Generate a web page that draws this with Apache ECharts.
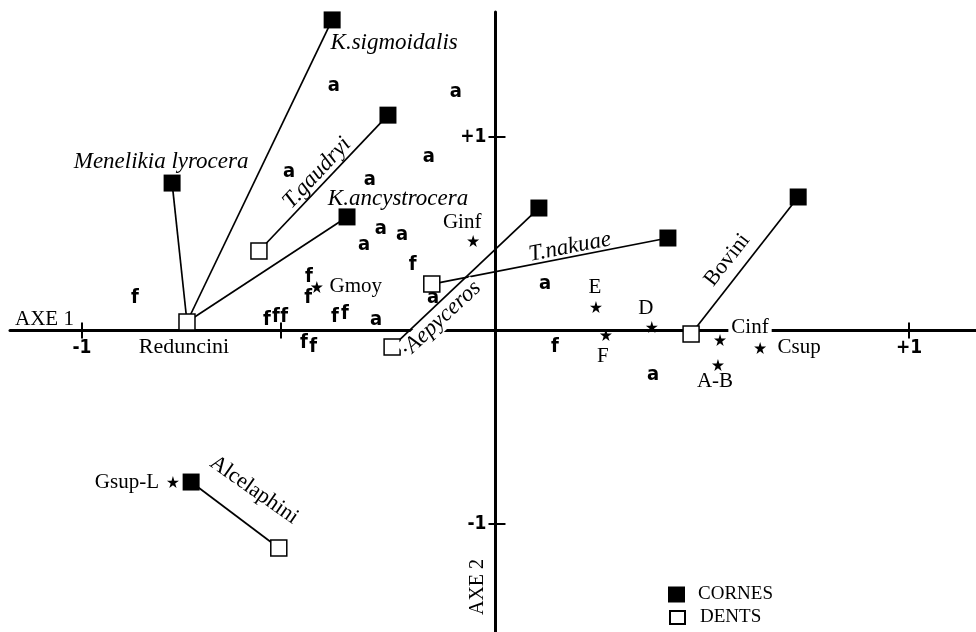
<!DOCTYPE html>
<html>
<head>
<meta charset="utf-8">
<script src="https://cdn.jsdelivr.net/npm/echarts@6/dist/echarts.min.js"></script>
<style>
  html, body { margin: 0; padding: 0; background: #fff; }
  #main { width: 976px; height: 632px; }
</style>
</head>
<body>
<div id="main"></div>
<script>
// CORNES (black squares), each linked to one DENTS point (white squares)
var cornesNames = ['K.sigmoidalis', 'T.gaudryi', 'Menelikia lyrocera', 'K.ancystrocera', '·Aepyceros', 'T.nakuae', 'Bovini', 'Alcelaphini'];
var cornesX = [-0.395, -0.260, -0.782, -0.359, 0.105, 0.417, 0.732, -0.736];
var cornesY = [1.605, 1.113, 0.762, 0.587, 0.633, 0.478, 0.690, -0.783];
var linkTo = [0, 1, 0, 0, 2, 3, 4, 5];

var dentsNames = ['Reduncini', '', '', '', '', ''];
var dentsX = [-0.746, -0.572, -0.250, -0.154, 0.473, -0.524];
var dentsY = [0.044, 0.411, -0.085, 0.240, -0.018, -1.124];

// stars
var starNames = ['Gmoy', 'Ginf', 'E', 'D', 'F', 'Cinf', 'Csup', 'A-B', 'Gsup-L'];
var starX = [-0.432, -0.054, 0.243, 0.378, 0.267, 0.543, 0.640, 0.538, -0.780];
var starY = [0.225, 0.463, 0.121, 0.018, -0.023, -0.049, -0.090, -0.178, -0.783];

// a / f letters
var letterText = ['a','a','a','a','a','a','a','a','a','a','a','a',
                  'f','f','f','f','f','f','f','f','f','f','f','f'];
var letterX = [-0.391, -0.096, -0.161, -0.499, -0.304, -0.277, -0.226, -0.318, -0.151, -0.289, 0.120, 0.381,
               -0.872, -0.553, -0.531, -0.511, -0.451, -0.453, -0.388, -0.364, -0.463, -0.441, -0.200, 0.144];
var letterY = [1.264, 1.232, 0.897, 0.819, 0.778, 0.525, 0.494, 0.442, 0.168, 0.054, 0.240, -0.230,
               0.168, 0.054, 0.070, 0.070, 0.276, 0.168, 0.070, 0.085, -0.065, -0.085, 0.338, -0.085];

// axes
var xTicks = [-1, -0.52, 1];
var xTickLabels = [-1, 1];
var yTicks = [-1, 1];
var yTickLabels = [-1, 1];

var SERIF = '"Liberation Serif", "Times New Roman", serif';
var NARROW = '"Liberation Sans Narrow", "DejaVu Sans Condensed", "Liberation Sans", sans-serif';
var STAR = 'path://M50,0 L61,35 L98,35 L68,57 L79,91 L50,70 L21,91 L32,57 L2,35 L39,35 Z';

// label placement: [dx, dy, rotate, italic]
var cornesLabelPos = [
  [62, 23, 0, true], [-71, 58, 47, true], [-11, -21, 0, true], [51, -18, 0, true],
  [-98, 111, 43, true], [-98, 9, 11, true], [-71, 63, 52, false], [63, 8, -35, false]
];
var starLabelPos = [[39, 0], [-11, -18], [-1, -20], [-6, -19], [-3, 22], [30, -13], [39, 0], [-3, 17], [-46, 0]];

// rotation of a label happens about the symbol, so turn the screen offset back
function rotOffset(dx, dy, rot) {
  var t = rot * Math.PI / 180;
  return [dx * Math.cos(t) - dy * Math.sin(t), dx * Math.sin(t) + dy * Math.cos(t)];
}

function signed(v) { return (v > 0 ? '+' : '') + v; }

var xMin = -1.174, xMax = 1.162, yMin = -1.558, yMax = 1.646;

var cornesData = cornesNames.map(function (n, i) {
  var p = cornesLabelPos[i];
  return {
    name: n,
    value: [cornesX[i], cornesY[i]],
    label: {
      show: true, formatter: n, position: 'inside', rotate: p[2],
      offset: rotOffset(p[0], p[1], p[2]),
      fontStyle: p[3] ? 'italic' : 'normal',
      fontSize: p[3] ? 23 : 22,
      backgroundColor: i === 4 ? '#fff' : 'transparent'
    }
  };
});

var dentsData = dentsNames.map(function (n, i) {
  return {
    name: n, value: [dentsX[i], dentsY[i]],
    label: { show: n !== '', formatter: n, position: 'inside', offset: [-3, 25] }
  };
});

var starData = starNames.map(function (n, i) {
  return {
    name: n, value: [starX[i], starY[i]],
    label: {
      show: true, formatter: n, position: 'inside', offset: starLabelPos[i],
      backgroundColor: n === 'Cinf' ? '#fff' : 'transparent', padding: n === 'Cinf' ? [0, 3] : 0
    }
  };
});

var letterData = letterText.map(function (t, i) {
  return { name: t, value: [letterX[i], letterY[i]] };
});

var linkData = linkTo.map(function (d, i) {
  return { coords: [[cornesX[i], cornesY[i]], [dentsX[d], dentsY[d]]] };
});

var chart = echarts.init(document.getElementById('main'));

var baseGraphic = [
  { id: 'axe1', type: 'text', x: 15, y: 319, style: { text: 'AXE 1', font: '21px ' + SERIF, fill: '#000', align: 'left', verticalAlign: 'middle' } },
  { id: 'axe2', type: 'text', x: 478, y: 587, rotation: Math.PI / 2, style: { text: 'AXE 2', font: '20px ' + SERIF, fill: '#000', align: 'center', verticalAlign: 'middle' } }
];

var option = {
  animation: false,
  backgroundColor: '#fff',
  grid: { left: 10, right: 0, top: 12, bottom: 0, outerBoundsMode: 'none' },
  legend: [
    {
      data: ['CORNES'], left: 663, top: 580, itemWidth: 17, itemHeight: 16,
      textStyle: { fontFamily: SERIF, fontSize: 19, color: '#000', padding: [0, 0, 0, 8] }
    },
    {
      data: ['DENTS'], left: 664, top: 603, itemWidth: 15, itemHeight: 13,
      textStyle: { fontFamily: SERIF, fontSize: 19, color: '#000', padding: [0, 0, 0, 10] }
    }
  ],
  xAxis: [
    {
      type: 'value', min: xMin, max: xMax, position: 'bottom',
      axisLine: { onZero: true, onZeroAxisIndex: 0, lineStyle: { color: '#000', width: 3 } },
      axisTick: { customValues: xTicks, length: 8, lineStyle: { color: '#000', width: 2 } },
      axisLabel: { show: false },
      splitLine: { show: false }
    },
    {
      type: 'value', min: xMin, max: xMax, position: 'bottom',
      axisLine: { show: false, onZero: true, onZeroAxisIndex: 0 },
      axisTick: { customValues: xTicks, inside: true, length: 8, lineStyle: { color: '#000', width: 2 } },
      axisLabel: { show: false },
      splitLine: { show: false }
    }
  ],
  yAxis: [
    {
      type: 'value', min: yMin, max: yMax, position: 'left',
      axisLine: { onZero: true, onZeroAxisIndex: 0, lineStyle: { color: '#000', width: 3 } },
      axisTick: { customValues: yTicks, length: 7, lineStyle: { color: '#000', width: 2 } },
      axisLabel: { show: false },
      splitLine: { show: false }
    },
    {
      type: 'value', min: yMin, max: yMax, position: 'left',
      axisLine: { show: false, onZero: true, onZeroAxisIndex: 0 },
      axisTick: { customValues: yTicks, inside: true, length: 10, lineStyle: { color: '#000', width: 2 } },
      axisLabel: { show: false },
      splitLine: { show: false }
    }
  ],
  graphic: baseGraphic,
  series: [
    {
      type: 'lines', coordinateSystem: 'cartesian2d', silent: true, z: 1,
      lineStyle: { color: '#000', width: 1.7, opacity: 1, curveness: 0 },
      data: linkData
    },
    {
      name: 'CORNES', type: 'scatter', symbol: 'rect', symbolSize: 17, z: 3,
      itemStyle: { color: '#000', opacity: 1 },
      label: { fontFamily: SERIF, fontSize: 22, color: '#000' },
      emphasis: { disabled: true },
      data: cornesData
    },
    {
      name: 'DENTS', type: 'scatter', symbol: 'rect', symbolSize: 16, z: 3,
      itemStyle: { color: '#fff', borderColor: '#000', borderWidth: 1.5, opacity: 1 },
      label: { fontFamily: SERIF, fontSize: 22, color: '#000' },
      emphasis: { disabled: true },
      data: dentsData
    },
    {
      name: 'stars', type: 'scatter', symbol: STAR, symbolSize: 12, z: 3,
      itemStyle: { color: '#000', opacity: 1 },
      label: { fontFamily: SERIF, fontSize: 21, color: '#000' },
      emphasis: { disabled: true },
      data: starData
    },
    {
      name: 'letters', type: 'scatter', symbolSize: 1, z: 3,
      itemStyle: { color: '#fff', opacity: 1 },
      label: {
        show: true, position: 'inside', formatter: '{b}',
        fontFamily: NARROW, fontWeight: 'bold', fontSize: 20, color: '#000'
      },
      emphasis: { disabled: true },
      data: letterData
    }
  ]
};

chart.setOption(option);

// tick labels placed through the axes' own scales
var tickGraphic = [];
xTickLabels.forEach(function (v, i) {
  var p = chart.convertToPixel({ xAxisIndex: 0, yAxisIndex: 0 }, [v, 0]);
  tickGraphic.push({ id: 'xl' + i, type: 'text', x: p[0], y: p[1] + 18,
    style: { text: signed(v), font: 'bold 19px ' + NARROW, fill: '#000', align: 'center', verticalAlign: 'middle' } });
});
yTickLabels.forEach(function (v, i) {
  var p = chart.convertToPixel({ xAxisIndex: 0, yAxisIndex: 0 }, [0, v]);
  tickGraphic.push({ id: 'yl' + i, type: 'text', x: p[0] - 9, y: p[1],
    style: { text: signed(v), font: 'bold 19px ' + NARROW, fill: '#000', align: 'right', verticalAlign: 'middle' } });
});
chart.setOption({ graphic: baseGraphic.concat(tickGraphic) });
</script>
</body>
</html>
